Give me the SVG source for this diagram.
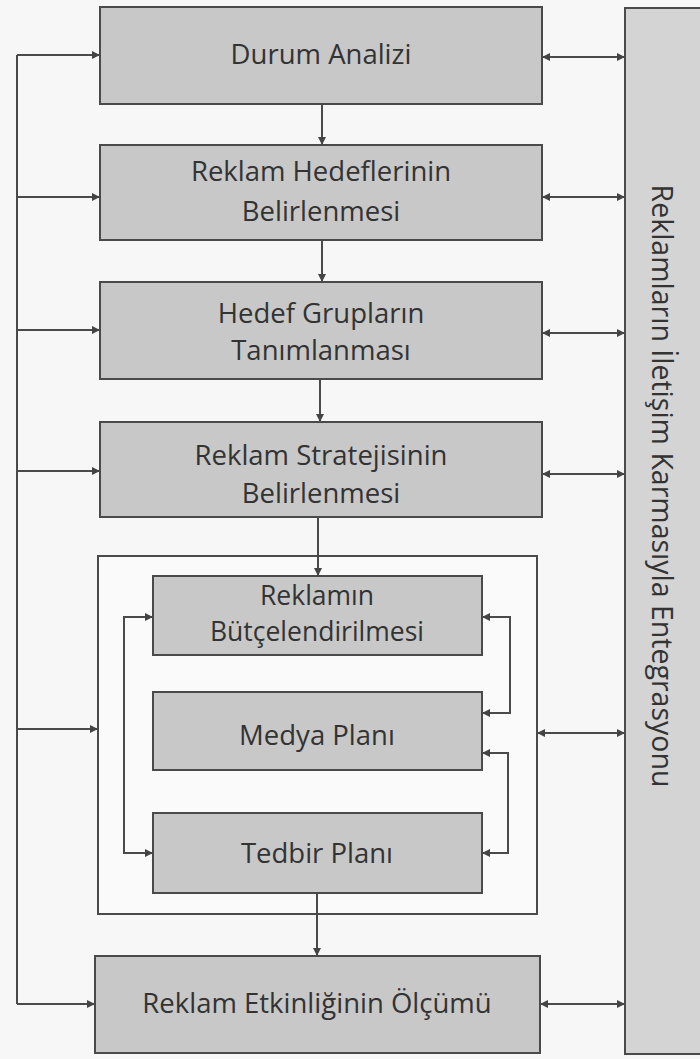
<svg xmlns="http://www.w3.org/2000/svg" width="700" height="1059" viewBox="0 0 700 1059">
<defs>
<marker id="ah" viewBox="0 0 10 10" refX="10" refY="5" markerWidth="9" markerHeight="8" markerUnits="userSpaceOnUse" orient="auto-start-reverse">
<path d="M0,0 L10,5 L0,10 z" fill="#444"/>
</marker>
<style>
.box{fill:#c8c8c8;stroke:#4a4a4a;stroke-width:2}
.bar{fill:#d4d4d4;stroke:#4a4a4a;stroke-width:2}
.cont{fill:#fafafa;stroke:#4a4a4a;stroke-width:2}
.t{font-family:"Open Sans","Noto Sans",sans-serif;font-size:27.5px;fill:#333;text-anchor:middle}
.s{font-size:26.5px}
.v{font-size:28.5px}
.c{fill:none;stroke:#4a4a4a;stroke-width:2}
.a{marker-end:url(#ah)}
.d{marker-start:url(#ah);marker-end:url(#ah)}
</style>
</defs>
<rect width="700" height="1059" fill="#f7f7f7"/>
<g id="bar">
<rect class="bar" x="625" y="8" width="90" height="1046"/>
<text class="t v" x="652" y="486" transform="rotate(90 652 486)">Reklamların İletişim Karmasıyla Entegrasyonu</text>
</g>
<g id="container">
<rect class="cont" x="98" y="556" width="439" height="358"/>
</g>
<g id="n1">
<rect class="box" x="100" y="7" width="442" height="97"/>
<text class="t" x="321" y="64">Durum Analizi</text>
</g>
<g id="n2">
<rect class="box" x="100" y="145" width="442" height="95"/>
<text class="t" x="321" y="181">Reklam Hedeflerinin</text>
<text class="t" x="321" y="221">Belirlenmesi</text>
</g>
<g id="n3">
<rect class="box" x="100" y="282" width="442" height="97"/>
<text class="t" x="321" y="323">Hedef Grupların</text>
<text class="t" x="321" y="360">Tanımlanması</text>
</g>
<g id="n4">
<rect class="box" x="100" y="422" width="442" height="95"/>
<text class="t" x="321" y="465">Reklam Stratejisinin</text>
<text class="t" x="321" y="503">Belirlenmesi</text>
</g>
<g id="n5">
<rect class="box" x="153" y="576" width="329" height="79"/>
<text class="t s" x="317" y="605">Reklamın</text>
<text class="t s" x="317" y="641">Bütçelendirilmesi</text>
</g>
<g id="n6">
<rect class="box" x="153" y="692" width="329" height="78"/>
<text class="t" x="317" y="745">Medya Planı</text>
</g>
<g id="n7">
<rect class="box" x="153" y="813" width="329" height="80"/>
<text class="t" x="317" y="863">Tedbir Planı</text>
</g>
<g id="n8">
<rect class="box" x="95" y="956" width="445" height="97"/>
<text class="t" x="317" y="1013">Reklam Etkinliğinin Ölçümü</text>
</g>
<g id="connectors">
<path class="c" d="M17,55 V1004"/>
<path class="c a" d="M17,55 H100"/>
<path class="c a" d="M17,197 H100"/>
<path class="c a" d="M17,330 H100"/>
<path class="c a" d="M17,471 H100"/>
<path class="c a" d="M17,729 H98"/>
<path class="c a" d="M17,1004 H95"/>
<path class="c d" d="M542,57 H625"/>
<path class="c d" d="M542,197 H625"/>
<path class="c d" d="M542,333 H625"/>
<path class="c d" d="M542,474 H625"/>
<path class="c d" d="M537,733 H625"/>
<path class="c d" d="M540,1004 H625"/>
<path class="c a" d="M322,104 V145"/>
<path class="c a" d="M322,240 V282"/>
<path class="c a" d="M320,379 V422"/>
<path class="c a" d="M318,517 V576"/>
<path class="c a" d="M317,893 V956"/>
<path class="c d" d="M153,617 H124 V853 H153"/>
<path class="c d" d="M482,617 H510 V713 H482"/>
<path class="c d" d="M482,753 H508 V853 H482"/>
</g>
</svg>
